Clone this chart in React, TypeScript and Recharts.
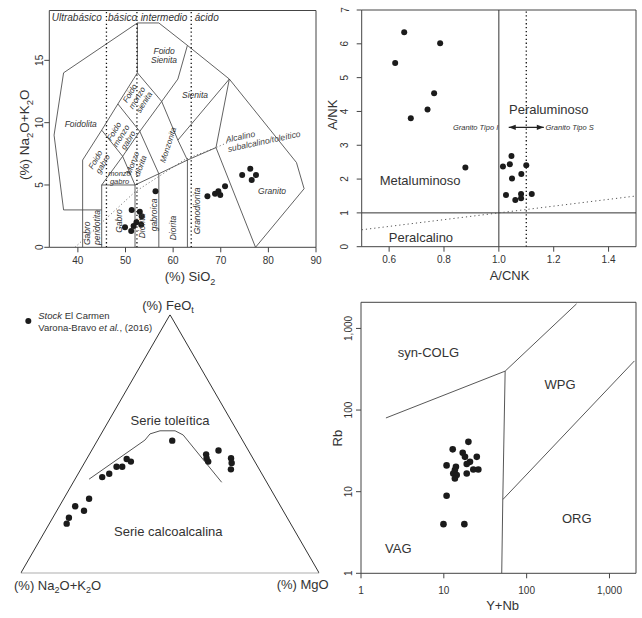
import React from 'react';
import { ScatterChart, Scatter, XAxis, YAxis, ReferenceDot, ReferenceArea } from 'recharts';

const FONT = '"Liberation Sans", Arial, Helvetica, sans-serif';
const INK = '#333333';
const AXIS = '#444444';
const DOT = '#1b1b1b';

type P = [number, number];

// ---- TAS, Middlemost (1994): SiO2 vs Na2O+K2O ----
const tasFields: P[][] = [
  [[41, 0], [41, 3], [37, 3], [35, 9], [37, 14], [52.5, 18], [57, 18], [63, 16.2], [71.8, 13.5], [85.9, 6.8], [87.5, 4.7], [77.3, 0]],
  [[41, 3], [45, 3]],
  [[45, 0], [45, 5], [52, 5], [52, 0]],
  [[41, 3], [41, 7], [45, 9.4], [48.4, 11.5], [52.5, 14], [52.5, 18]],
  [[45, 5], [49.4, 7.3], [53, 9.3], [57.6, 11.7], [61, 13.5], [63, 16.2]],
  [[45, 9.4], [49.4, 7.3], [52, 5]],
  [[48.4, 11.5], [53, 9.3], [57, 5.9], [57, 0]],
  [[52.5, 14], [57.6, 11.7], [61, 8.6], [63, 7], [63, 0]],
  [[52, 5], [57, 5.9], [63, 7], [69, 8], [77.3, 0]],
  [[69, 8], [71.8, 13.5], [61, 8.6]],
];
const tasSilicaBounds = [46, 52.4, 63.8];
const tasAlkalineLine: P[] = [[39.4, 0], [52, 4.45], [62.5, 7.05], [69, 8], [72, 8.5]];
const tasXTicks = [40, 50, 60, 70, 80, 90];
const tasYTicks = [0, 5, 10, 15];
const tasSiO2 = [56.3, 51.3, 53.0, 53.4, 52.3, 51.7, 51.2, 49.9, 53.3, 67.2, 68.8, 69.5, 69.9, 70.9, 74.5, 76.2, 77.4, 76.5];
const tasAlk = [4.5, 3.0, 2.85, 2.5, 2.0, 1.7, 1.3, 1.6, 1.8, 4.1, 4.3, 4.5, 4.2, 4.9, 5.8, 6.3, 5.8, 5.4];

// ---- Shand: A/CNK vs A/NK ----
const acnk = [0.655, 0.786, 0.622, 0.764, 0.74, 0.679, 0.878, 1.015, 1.04, 1.046, 1.1, 1.048, 1.082, 1.026, 1.081, 1.081, 1.06, 1.12];
const ank = [6.34, 6.02, 5.43, 4.54, 4.06, 3.8, 2.34, 2.37, 2.44, 2.68, 2.41, 2.02, 2.15, 1.53, 1.56, 1.43, 1.38, 1.56];
const shandSolid: P[][] = [[[1, 0], [1, 7]], [[0.5, 1], [1.5, 1]]];
const shandTypeLine: P[] = [[1.1, 0], [1.1, 7]];
const shandDiagonal: P[] = [[0.5, 0.5], [1.5, 1.5]];
const granitoArrow: P[] = [[1.036, 3.53], [1.164, 3.53]];
const shandXTicks = [0.6, 0.8, 1.0, 1.2, 1.4];
const shandYTicks = [0, 1, 2, 3, 4, 5, 6, 7];

// ---- AFM (A = Na2O+K2O, F = FeOt, M = MgO), % ----
const afmA = [23.6, 14.9, 15.5, 15.6, 10.0, 7.3, 8.0, 9.5, 41.5, 42.4, 45.4, 47.3, 51.1, 54.1, 62.7, 66.7, 68.8, 73.1, 75.0];
const afmF = [51.3, 46.0, 44.5, 43.2, 47.5, 44.5, 42.7, 40.2, 43.2, 44.2, 41.2, 41.2, 38.5, 37.2, 28.8, 24.2, 25.9, 21.5, 19.2];
const afmM = [25.1, 39.1, 40.0, 41.2, 42.5, 48.2, 49.3, 50.3, 15.3, 13.4, 13.4, 11.5, 10.4, 8.7, 8.5, 9.1, 5.3, 5.4, 5.8];
const afmTriangle: [number, number, number][] = [[100, 0, 0], [0, 100, 0], [0, 0, 100], [100, 0, 0]];
const afmDivide: [number, number, number][] = [
  [58.9, 36.4, 4.7], [32.65, 51.5, 15.85], [29.75, 53.9, 16.35], [25.8, 55.1, 19.1],
  [20.75, 55.1, 24.15], [18.85, 53.5, 27.65], [15.1, 35.2, 49.7],
];

// ---- Pearce et al. (1984): Y+Nb vs Rb ----
const ynb = [19.8, 12.8, 16.9, 18.0, 25.0, 20.7, 18.9, 10.8, 14.0, 13.6, 13.0, 14.3, 13.6, 18.9, 22.7, 26.1, 10.8, 9.9, 17.7];
const rb = [40.8, 33.0, 29.9, 26.7, 26.7, 23.2, 21.8, 21.0, 20.2, 18.4, 16.7, 16.0, 14.5, 16.7, 18.7, 18.7, 8.9, 4.0, 4.0];
const pearceLines: P[][] = [
  [[2, 80], [55, 300], [400, 2000]],
  [[55, 300], [51.5, 8], [50, 1]],
  [[51.5, 8], [2000, 400]],
];
const logTicks = [1, 10, 100, 1000];

// ---------- helpers ----------
const H = Math.sqrt(3) / 2;
const xy = (pts: P[]) => pts.map(([x, y]) => ({ x, y }));
const zip = (xs: number[], ys: number[]) => xs.map((x, i) => ({ x, y: ys[i] }));
const ternary = (a: number, f: number, m: number) => ({ x: m + f / 2, y: f * H });
const hidden = () => <g />;

type Seg = string | { t: string; sub?: boolean; it?: boolean };
type Line = string | Seg[];
interface NoteProps {
  lines: Line[];
  size?: number;
  lh?: number;
  angle?: number;
  anchor?: 'start' | 'middle' | 'end';
  italic?: boolean;
  color?: string;
  base?: boolean;
}

function TextBlock({ cx, cy, lines, size = 8.5, lh, angle = 0, anchor = 'middle', italic = false, color = INK, base = false }: NoteProps & { cx: number; cy: number }) {
  const step = lh ?? size * 1.05;
  const first = base ? 0 : -((lines.length - 1) / 2) * step + size * 0.35;
  let shift = 0;
  return (
    <text x={cx} y={cy} transform={angle ? `rotate(${angle} ${cx} ${cy})` : undefined} fontFamily={FONT}
      fontSize={size} fontStyle={italic ? 'italic' : 'normal'} fill={color} textAnchor={anchor}>
      {lines.map((ln, i) => {
        const segs = typeof ln === 'string' ? [ln] : ln;
        return segs.map((s, j) => {
          const seg = typeof s === 'string' ? { t: s } : s;
          const target = seg.sub ? size * 0.3 : 0;
          const dy = (j === 0 ? (i === 0 ? first : step) : 0) + target - shift;
          shift = target;
          return (
            <tspan key={`${i}-${j}`} x={j === 0 ? cx : undefined} dy={dy}
              fontSize={seg.sub ? size * 0.7 : undefined} fontStyle={seg.it ? 'italic' : undefined}>
              {seg.t}
            </tspan>
          );
        });
      })}
    </text>
  );
}

function polyline(key: string, data: { x: number; y: number }[], stroke: string, width = 0.9, dash?: string) {
  return (
    <Scatter key={key} data={data} shape={hidden} line={{ stroke, strokeWidth: width, strokeDasharray: dash }}
      lineType="joint" isAnimationActive={false} legendType="none" />
  );
}

function points(key: string, data: { x: number; y: number }[], r: number) {
  return (
    <Scatter key={key} data={data} isAnimationActive={false} legendType="none"
      shape={(p: any) => <circle cx={p.cx} cy={p.cy} r={r} fill={DOT} />} />
  );
}

function note(key: string, x: number, y: number, props: NoteProps) {
  return (
    <ReferenceDot key={key} x={x} y={y} r={0} ifOverflow="visible"
      shape={(p: any) => <TextBlock cx={p.cx} cy={p.cy} {...props} />} />
  );
}

const xTick = (fmt: (v: number) => string, dy: number) => (p: any) => (
  <text x={p.x} y={p.y + dy} textAnchor="middle" fontFamily={FONT} fontSize={10} fill={INK}>{fmt(p.payload.value)}</text>
);
const yTick = (fmt: (v: number) => string) => (p: any) => (
  <text x={p.x} y={p.y} transform={`rotate(-90 ${p.x} ${p.y})`} textAnchor="middle" fontFamily={FONT} fontSize={10} fill={INK}>
    {fmt(p.payload.value)}
  </text>
);
const plain = (v: number) => String(v);
const oneDec = (v: number) => v.toFixed(1);
const thousands = (v: number) => v.toLocaleString('en-US');

// ---------- label placement ----------
const TAS_NOTES: ({ x: number; y: number } & NoteProps)[] = [
  { x: 39.76, y: 18.43, lines: ['Ultrabásico'], size: 10, italic: true },
  { x: 49.37, y: 18.43, lines: ['básico'], size: 10, italic: true },
  { x: 58.08, y: 18.43, lines: ['intermedio'], size: 10, italic: true },
  { x: 67.06, y: 18.43, lines: ['ácido'], size: 10, italic: true },
  { x: 58.1, y: 15.4, lines: ['Foido', 'Sienita'], italic: true },
  { x: 64.6, y: 12.24, lines: ['Sienita'], italic: true },
  { x: 40.6, y: 9.86, lines: ['Foidolita'], italic: true },
  { x: 52.4, y: 12.0, lines: ['Foido', 'monzo', 'sienita'], angle: -58, italic: true, size: 8 },
  { x: 49.06, y: 8.95, lines: ['Foido', 'monzo', 'gabro'], angle: -58, italic: true, size: 8 },
  { x: 44.45, y: 6.86, lines: ['Foido', 'gabro'], angle: -60, italic: true, size: 8 },
  { x: 48.74, y: 5.6, lines: ['monzo', 'gabro'], italic: true, size: 7.5, lh: 7.5 },
  { x: 52.31, y: 6.66, lines: ['Monzo', 'diorita'], angle: -70, italic: true, size: 8 },
  { x: 58.93, y: 8.22, lines: ['Monzonita'], angle: -72, italic: true, size: 8 },
  { x: 48.64, y: 2.11, lines: ['Gabro'], angle: -90, italic: true },
  { x: 53.4, y: 1.71, lines: ['Diorita'], angle: -90, italic: true },
  { x: 56.05, y: 2.6, lines: ['gabroica'], angle: -90, italic: true },
  { x: 60.04, y: 1.55, lines: ['Diorita'], angle: -90, italic: true },
  { x: 64.95, y: 2.92, lines: ['Granodiorita'], angle: -90, italic: true },
  { x: 80.77, y: 4.55, lines: ['Granito'], italic: true },
  { x: 42.9, y: 0.18, lines: ['Gabro', 'peridotita'], angle: -90, anchor: 'start', lh: 10, italic: true },
  { x: 71.2, y: 8.4, lines: ['Alcalino', 'subalcalino/toleítico'], angle: -12, anchor: 'start', lh: 9.5, base: true, italic: true, color: '#444' },
  { x: 63.55, y: -2.35, lines: [['(%) SiO', { t: '2', sub: true }]], size: 13 },
  { x: 28.8, y: 9.03, lines: [['(%) Na', { t: '2', sub: true }, 'O+K', { t: '2', sub: true }, 'O']], size: 13.5, angle: -90 },
];

const SHAND_NOTES: ({ x: number; y: number } & NoteProps)[] = [
  { x: 1.182, y: 4.06, lines: ['Peraluminoso'], size: 13 },
  { x: 0.713, y: 1.96, lines: ['Metaluminoso'], size: 13 },
  { x: 0.716, y: 0.27, lines: ['Peralcalino'], size: 13 },
  { x: 0.998, y: 3.53, lines: ['Granito Tipo I'], size: 7.5, italic: true, anchor: 'end' },
  { x: 1.17, y: 3.53, lines: ['Granito Tipo S'], size: 7.5, italic: true, anchor: 'start' },
  { x: 1.039, y: -0.84, lines: ['A/CNK'], size: 13 },
  { x: 0.395, y: 3.9, lines: ['A/NK'], size: 13, angle: -90 },
];

const AFM_NOTES: ({ x: number; y: number } & NoteProps)[] = [
  { x: 49.33, y: 89.85, lines: [['(%) FeO', { t: 't', sub: true }]], size: 13 },
  { x: 50.0, y: 51.17, lines: ['Serie toleítica'], size: 13 },
  { x: 49.43, y: 14.17, lines: ['Serie calcoalcalina'], size: 13 },
  { x: -2.24, y: -3.92, lines: [['(%) Na', { t: '2', sub: true }, 'O+K', { t: '2', sub: true }, 'O']], size: 13, anchor: 'start' },
  { x: 85.73, y: -3.75, lines: ['(%) MgO'], size: 13, anchor: 'start' },
  {
    x: 5.89, y: 84.24, size: 9.5, lh: 12.5, anchor: 'start',
    lines: [[{ t: 'Stock', it: true }, ' El Carmen'], ['Varona-Bravo ', { t: 'et al.', it: true }, ', (2016)']],
  },
];

const PEARCE_NOTES: ({ x: number; y: number } & NoteProps)[] = [
  { x: 6.5, y: 515, lines: ['syn-COLG'], size: 13 },
  { x: 253, y: 206, lines: ['WPG'], size: 13 },
  { x: 403, y: 4.71, lines: ['ORG'], size: 13 },
  { x: 2.82, y: 2.02, lines: ['VAG'], size: 13 },
  { x: 51.2, y: 0.409, lines: ['Y+Nb'], size: 13 },
  { x: 0.513, y: 45.3, lines: ['Rb'], size: 13, angle: -90 },
];

const renderNotes = (prefix: string, list: ({ x: number; y: number } & NoteProps)[]) =>
  list.map(({ x, y, ...rest }, i) => note(`${prefix}${i}`, x, y, rest));

// ---------- panels ----------
function TasChart() {
  return (
    <ScatterChart width={330} height={300} margin={{ top: 10.5, right: 14, bottom: 22.7, left: 19.3 }}>
      <XAxis type="number" dataKey="x" domain={[34, 90]} ticks={tasXTicks} interval={0} allowDataOverflow height={30}
        tickSize={5} tickMargin={4} axisLine={false} tickLine={{ stroke: AXIS }} tick={xTick(plain, 7.5)} />
      <YAxis type="number" dataKey="y" domain={[0, 19]} ticks={tasYTicks} interval={0} allowDataOverflow width={30}
        tickSize={5} tickMargin={1.3} axisLine={false} tickLine={{ stroke: AXIS }} tick={yTick(plain)} />
      <ReferenceArea x1={34} x2={90} y1={0} y2={19} fill="none" stroke={AXIS} ifOverflow="visible" />
      {tasFields.map((f, i) => polyline(`tf${i}`, xy(f), '#3a3a3a', 0.8))}
      {tasSilicaBounds.map((s, i) => polyline(`ts${i}`, xy([[s, 0], [s, 19]]), '#111', 1.3, '1.3 2.6'))}
      {polyline('talk', xy(tasAlkalineLine), '#666', 1, '1 2.5')}
      {points('tpts', zip(tasSiO2, tasAlk), 3)}
      {renderNotes('tn', TAS_NOTES)}
    </ScatterChart>
  );
}

function ShandChart() {
  return (
    <ScatterChart width={324} height={295} margin={{ top: 10, right: 6, bottom: 18.3, left: 13.7 }}>
      <XAxis type="number" dataKey="x" domain={[0.5, 1.5]} ticks={shandXTicks} interval={0} allowDataOverflow height={30}
        tickSize={5} tickMargin={3.3} axisLine={false} tickLine={{ stroke: AXIS }} tick={xTick(oneDec, 7.5)} />
      <YAxis type="number" dataKey="y" domain={[0, 7]} ticks={shandYTicks} interval={0} allowDataOverflow width={30}
        tickSize={5} tickMargin={8.2} axisLine={false} tickLine={{ stroke: AXIS }} tick={yTick(plain)} />
      <ReferenceArea x1={0.5} x2={1.5} y1={0} y2={7} fill="none" stroke={AXIS} ifOverflow="visible" />
      {shandSolid.map((l, i) => polyline(`ss${i}`, xy(l), '#333', 1))}
      {polyline('stype', xy(shandTypeLine), '#111', 1.3, '1.3 2.6')}
      {polyline('sdiag', xy(shandDiagonal), '#555', 1, '1.2 3')}
      {polyline('sarrow', xy(granitoArrow), '#222', 1.3)}
      <Scatter data={xy([granitoArrow[0]])} isAnimationActive={false} legendType="none"
        shape={(p: any) => <path d={`M${p.cx},${p.cy} l7,-2.6 l0,5.2 z`} fill="#222" />} />
      <Scatter data={xy([granitoArrow[1]])} isAnimationActive={false} legendType="none"
        shape={(p: any) => <path d={`M${p.cx},${p.cy} l-7,-2.6 l0,5.2 z`} fill="#222" />} />
      {points('spts', zip(acnk, ank), 3)}
      {renderNotes('sn', SHAND_NOTES)}
    </ScatterChart>
  );
}

function AfmChart() {
  const samples = afmA.map((a, i) => ternary(a, afmF[i], afmM[i]));
  return (
    <ScatterChart width={330} height={323} margin={{ top: 19.7, right: 10.7, bottom: 44.7, left: 20.7 }}>
      <XAxis type="number" dataKey="x" domain={[0, 100]} hide allowDataOverflow />
      <YAxis type="number" dataKey="y" domain={[0, 100 * H]} hide allowDataOverflow />
      {polyline('tri', afmTriangle.map(([a, f, m]) => ternary(a, f, m)), '#333', 1)}
      {polyline('div', afmDivide.map(([a, f, m]) => ternary(a, f, m)), '#555', 1)}
      {points('apts', samples, 3.2)}
      <ReferenceDot x={2.55} y={84.5} r={3} fill={DOT} stroke="none" ifOverflow="visible" />
      {renderNotes('an', AFM_NOTES)}
    </ScatterChart>
  );
}

function PearceChart() {
  return (
    <ScatterChart width={312} height={323} margin={{ top: 7.3, right: 6, bottom: 14.7, left: 1 }}>
      <XAxis type="number" dataKey="x" scale="log" domain={[1, 2090]} ticks={logTicks} interval={0} allowDataOverflow height={30}
        tickSize={5} tickMargin={8.2} axisLine={false} tickLine={{ stroke: AXIS }} tick={xTick(thousands, 7.5)} />
      <YAxis type="number" dataKey="y" scale="log" domain={[1, 2090]} ticks={logTicks} interval={0} allowDataOverflow width={30}
        tickSize={5} tickMargin={3.5} axisLine={false} tickLine={{ stroke: AXIS }} tick={yTick(thousands)} />
      <ReferenceArea x1={1} x2={2090} y1={1} y2={2090} fill="none" stroke={AXIS} ifOverflow="visible" />
      {pearceLines.map((l, i) => polyline(`pl${i}`, xy(l), '#444', 0.9))}
      {points('ppts', zip(ynb, rb), 3.3)}
      {renderNotes('pn', PEARCE_NOTES)}
    </ScatterChart>
  );
}

export default function App() {
  return (
    <div style={{ position: 'absolute', left: 0, top: 0, width: 642, height: 618, background: '#fff', fontFamily: FONT }}>
      <div style={{ position: 'absolute', left: 0, top: 0 }}><TasChart /></div>
      <div style={{ position: 'absolute', left: 318, top: 0 }}><ShandChart /></div>
      <div style={{ position: 'absolute', left: 0, top: 295 }}><AfmChart /></div>
      <div style={{ position: 'absolute', left: 330, top: 295 }}><PearceChart /></div>
    </div>
  );
}
